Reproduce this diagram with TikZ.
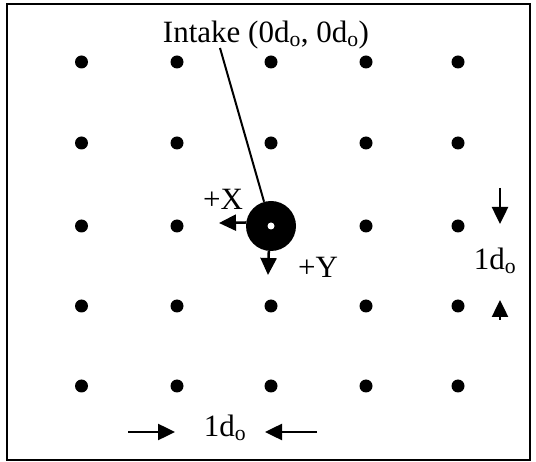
\documentclass[tikz,border=0pt]{standalone}
\usepackage{fontspec}
\setmainfont{Liberation Serif}
\usetikzlibrary{arrows.meta}

\begin{document}
\begin{tikzpicture}[x=1pt,y=-1pt,font=\fontsize{31}{36}\selectfont,
    dot/.style={circle,fill=black,inner sep=0pt,minimum size=13pt},
    pointer/.style={line width=2.5pt,-{Triangle[length=17pt,width=16pt]}}]
  \useasboundingbox (0,0) rectangle (536,462);
  \draw[line width=2.5pt] (7,4) rectangle (530,460);
  % grid of sampling points
  \foreach \xx [count=\i] in {81.5,177,271,366,458} {
    \foreach \yy [count=\j] in {62,143,226,306,386} {
      \ifnum\i=3 \ifnum\j=3 \else
        \node[dot] (p\i\j) at (\xx,\yy) {};
      \fi \else
        \node[dot] (p\i\j) at (\xx,\yy) {};
      \fi
    }
  }
  % intake
  \node[circle,fill=black,inner sep=0pt,minimum size=50pt] (intake) at (271,226) {};
  \fill[white] (intake.center) circle (3.5);
  \node[anchor=base] (lbl) at (266,43) {Intake (0d\textsubscript{o}, 0d\textsubscript{o})};
  \coordinate (lead) at (220,48);
  \draw[line width=2pt] (lead) -- (intake);
  % axes
  \coordinate (xtip) at (219,223);
  \coordinate (ytip) at (268,275);
  \draw[pointer] (intake.172) -- (xtip);
  \draw[pointer] (intake.265) -- (ytip);
  \node[anchor=base] (xlbl) at (223,210) {+X};
  \node[anchor=base] (ylbl) at (318,278) {+Y};
  % spacing marks
  \node[anchor=base] (vlbl) at (495,270) {1d\textsubscript{o}};
  \node[anchor=base] (hlbl) at (225,437) {1d\textsubscript{o}};
  \coordinate (vtop) at (500,188);
  \coordinate (vtopt) at (500,224);
  \coordinate (vbot) at (500,320);
  \coordinate (vbott) at (500,300);
  \coordinate (hleft) at (128,432);
  \coordinate (hleftt) at (175,432);
  \coordinate (hright) at (317,432);
  \coordinate (hrightt) at (265,432);
  \draw[pointer] (vtop) -- (vtopt);
  \draw[pointer] (vbot) -- (vbott);
  \draw[pointer] (hleft) -- (hleftt);
  \draw[pointer] (hright) -- (hrightt);
\end{tikzpicture}
\end{document}
